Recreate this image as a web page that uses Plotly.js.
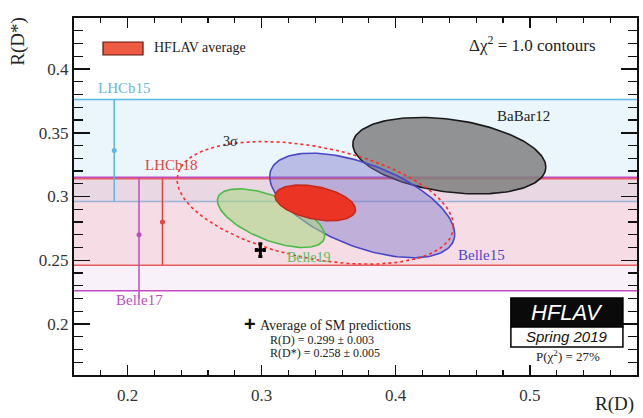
<!DOCTYPE html>
<html>
<head>
<meta charset="utf-8">
<script src="https://cdn.plot.ly/plotly-3.0.1.min.js"></script>
<style>html,body{margin:0;padding:0;background:#fff;}#chart{width:643px;height:418px;}</style>
</head>
<body>
<div id="chart"></div>
<script>
// ---- 2D measurements (Δχ² = 1 contours) ----
const expNames = ['BaBar12', 'Belle15', 'Belle19', 'HFLAV average'];
const rD      = [0.440, 0.375, 0.307, 0.340];
const rDErr   = [0.072, 0.069, 0.040, 0.030];
const rDs     = [0.332, 0.293, 0.283, 0.295];
const rDsErr  = [0.030, 0.041, 0.023, 0.014];
const corr    = [-0.30, -0.55, -0.60, -0.38];

// 3 sigma contour of average (Δχ² = 11.8)
const sigma3Scale = Math.sqrt(11.8);

// ---- 1D R(D*) measurements ----
const oneDNames   = ['LHCb15', 'LHCb18', 'Belle17'];
const oneDVal     = [0.336, 0.280, 0.270];
const oneDErrUp   = [0.040, 0.034, 0.045];
const oneDErrDown = [0.040, 0.034, 0.044];
const oneDMarkerX = [0.190, 0.226, 0.2085];

// ---- SM prediction ----
const smRD = [0.299], smRDErr = [0.003];
const smRDs = [0.258], smRDsErr = [0.005];

// ---- Axis ranges ----
const xRange = [0.16, 0.58];
const yRange = [0.16, 0.44];

const serif = '"Liberation Serif", "Times New Roman", serif';
const sans = '"Liberation Sans", Arial, sans-serif';

function ellipse(cx, cy, sx, sy, rho, k) {
  const xs = [], ys = [];
  const n = 160;
  for (let i = 0; i <= n; i++) {
    const t = 2 * Math.PI * i / n;
    const u = Math.cos(t), v = Math.sin(t);
    xs.push(cx + k * sx * u);
    ys.push(cy + k * sy * (rho * u + Math.sqrt(1 - rho * rho) * v));
  }
  return {x: xs, y: ys};
}

const ellStyle = [
  {fill: 'rgba(128,128,128,0.85)', line: '#1a1a1a'},
  {fill: 'rgba(120,112,200,0.42)', line: '#4848c8'},
  {fill: 'rgba(165,215,125,0.55)', line: '#4cbb48'},
  {fill: 'rgba(236,52,36,1)', line: '#c42a1c'}
];

const traces = [];
for (let i = 0; i < expNames.length; i++) {
  const e = ellipse(rD[i], rDs[i], rDErr[i], rDsErr[i], corr[i], 1);
  traces.push({
    x: e.x, y: e.y, type: 'scatter', mode: 'lines', fill: 'toself',
    fillcolor: ellStyle[i].fill, line: {color: ellStyle[i].line, width: 1.6},
    hoverinfo: 'skip', showlegend: false, name: expNames[i]
  });
}
// 3 sigma dashed contour
{
  const i = 3;
  const e = ellipse(rD[i], rDs[i], rDErr[i], rDsErr[i], corr[i], sigma3Scale);
  traces.push({
    x: e.x, y: e.y, type: 'scatter', mode: 'lines',
    line: {color: '#ff2a2a', width: 1.6, dash: '3px,3px'},
    hoverinfo: 'skip', showlegend: false
  });
}

// 1D markers with vertical error bars
const oneDColors = ['#5ab6e2', '#e8403a', '#c04cc0'];
for (let i = 0; i < oneDNames.length; i++) {
  traces.push({
    x: [oneDMarkerX[i]], y: [oneDVal[i]], type: 'scatter', mode: 'markers',
    marker: {color: oneDColors[i], size: 5},
    error_y: {type: 'data', symmetric: false, array: [oneDErrUp[i]], arrayminus: [oneDErrDown[i]],
              color: oneDColors[i], thickness: 1.5, width: 0},
    hoverinfo: 'skip', showlegend: false
  });
}
// Belle17 line extends down to its label
traces.push({
  x: [oneDMarkerX[2], oneDMarkerX[2]], y: [oneDVal[2] - oneDErrDown[2], oneDVal[2] - oneDErrDown[2] - 0.006],
  type: 'scatter', mode: 'lines', line: {color: oneDColors[2], width: 1.5}, hoverinfo: 'skip', showlegend: false
});

// SM prediction cross
traces.push({
  x: smRD, y: smRDs, type: 'scatter', mode: 'markers',
  marker: {color: 'black', size: 1},
  error_x: {type: 'data', array: smRDErr, color: 'black', thickness: 3, width: 2},
  error_y: {type: 'data', array: smRDsErr, color: 'black', thickness: 3, width: 2},
  hoverinfo: 'skip', showlegend: false
});

// Bands for 1D measurements
const bandFill = ['rgba(195,228,246,0.35)', 'rgba(246,165,170,0.30)', 'rgba(222,190,232,0.22)'];
const shapes = [];
for (let i = 0; i < oneDNames.length; i++) {
  const lo = oneDVal[i] - oneDErrDown[i], hi = oneDVal[i] + oneDErrUp[i];
  shapes.push({type: 'rect', xref: 'paper', yref: 'y', x0: 0, x1: 1, y0: lo, y1: hi,
               fillcolor: bandFill[i], line: {width: 0}, layer: 'below'});
  [lo, hi].forEach(v => shapes.push({type: 'line', xref: 'paper', yref: 'y', x0: 0, x1: 1, y0: v, y1: v,
               line: {color: oneDColors[i], width: 1.5}, layer: 'below'}));
}
// Legend box
shapes.push({type: 'rect', xref: 'paper', yref: 'paper', x0: 0.0515, x1: 0.1226, y0: 0.8964, y1: 0.9328,
             fillcolor: '#ee5a42', line: {color: '#5a1a10', width: 1.2}});
// HFLAV logo boxes
shapes.push({type: 'rect', xref: 'paper', yref: 'paper', x0: 0.776, x1: 0.975, y0: 0.1345, y1: 0.2157,
             fillcolor: '#0a0a0a', line: {color: '#000', width: 1.5}});
shapes.push({type: 'rect', xref: 'paper', yref: 'paper', x0: 0.776, x1: 0.975, y0: 0.0784, y1: 0.1345,
             fillcolor: '#ffffff', line: {color: '#000', width: 1.5}});

const annotations = [
  {xref: 'paper', yref: 'paper', x: 0.1385, y: 0.916, xanchor: 'left', yanchor: 'middle', showarrow: false,
   text: 'HFLAV average', font: {family: serif, size: 14, color: '#222'}},
  {xref: 'paper', yref: 'paper', x: 0.815, y: 0.926, xanchor: 'center', yanchor: 'middle', showarrow: false,
   text: 'Δχ<sup>2</sup> = 1.0 contours', font: {family: serif, size: 17, color: '#222'}},
  {x: 0.495, y: 0.363, showarrow: false, text: 'BaBar12', font: {family: serif, size: 15, color: '#222'}},
  {x: 0.464, y: 0.2545, showarrow: false, text: 'Belle15', font: {family: serif, size: 15, color: '#4848c8'}},
  {x: 0.3355, y: 0.2518, showarrow: false, text: 'Belle19', font: {family: serif, size: 14, color: '#5cc058'}},
  {x: 0.2324, y: 0.3247, showarrow: false, text: 'LHCb18', font: {family: serif, size: 15, color: '#e8403a'}},
  {x: 0.198, y: 0.385, showarrow: false, text: 'LHCb15', font: {family: serif, size: 15, color: '#6ab8e0'}},
  {x: 0.2085, y: 0.2185, showarrow: false, text: 'Belle17', font: {family: serif, size: 15, color: '#c04cc0'}},
  {x: 0.2764, y: 0.3435, showarrow: false, text: '3σ', font: {family: serif, size: 14, color: '#222'}},
  {xref: 'paper', yref: 'paper', x: 0.3126, y: 0.142, xanchor: 'center', yanchor: 'middle', showarrow: false,
   text: '<b>+</b>', font: {family: sans, size: 20, color: '#111'}},
  {xref: 'paper', yref: 'paper', x: 0.327, y: 0.14, xanchor: 'left', yanchor: 'middle', showarrow: false,
   text: 'Average of SM predictions', font: {family: serif, size: 14, color: '#222'}},
  {xref: 'paper', yref: 'paper', x: 0.345, y: 0.098, xanchor: 'left', yanchor: 'middle', showarrow: false,
   text: 'R(D) = 0.299 ± 0.003', font: {family: serif, size: 12, color: '#222'}},
  {xref: 'paper', yref: 'paper', x: 0.345, y: 0.0616, xanchor: 'left', yanchor: 'middle', showarrow: false,
   text: 'R(D*) = 0.258 ± 0.005', font: {family: serif, size: 12, color: '#222'}},
  {xref: 'paper', yref: 'paper', x: 0.8755, y: 0.176, xanchor: 'center', yanchor: 'middle', showarrow: false,
   text: '<i>HFLAV</i>', font: {family: sans, size: 22, color: '#ffffff'}},
  {xref: 'paper', yref: 'paper', x: 0.8755, y: 0.1065, xanchor: 'center', yanchor: 'middle', showarrow: false,
   text: '<i>Spring 2019</i>', font: {family: sans, size: 15, color: '#111'}},
  {xref: 'paper', yref: 'paper', x: 0.877, y: 0.053, xanchor: 'center', yanchor: 'middle', showarrow: false,
   text: 'P(χ<sup>2</sup>) = 27%', font: {family: serif, size: 13, color: '#222'}},
  // axis titles
  {xref: 'paper', yref: 'paper', x: 0.999, y: -0.082, xanchor: 'right', yanchor: 'middle', showarrow: false,
   text: 'R(D)', font: {family: serif, size: 19, color: '#222'}},
  {xref: 'paper', yref: 'paper', x: -0.1, y: 1.01, xanchor: 'center', yanchor: 'top', showarrow: false,
   textangle: -90, text: 'R(D*)', font: {family: serif, size: 19, color: '#222'}}
];

const layout = {
  width: 643, height: 418,
  margin: {l: 74, r: 6, t: 18, b: 43},
  paper_bgcolor: '#ffffff', plot_bgcolor: '#ffffff',
  showlegend: false,
  xaxis: {
    range: xRange, dtick: 0.1, tick0: 0.2,
    ticks: 'inside', ticklen: 10, tickwidth: 1.5, tickcolor: '#111',
    mirror: 'allticks', showline: true, linewidth: 2, linecolor: '#111',
    showgrid: false, zeroline: false,
    minor: {dtick: 0.02, ticks: 'inside', ticklen: 5, tickwidth: 1.2, tickcolor: '#111', showgrid: false},
    tickfont: {family: serif, size: 17, color: '#333'}, ticklabelstandoff: 4
  },
  yaxis: {
    range: yRange, dtick: 0.05, tick0: 0.2,
    ticks: 'inside', ticklen: 16, tickwidth: 1.5, tickcolor: '#111',
    mirror: 'allticks', showline: true, linewidth: 2, linecolor: '#111',
    showgrid: false, zeroline: false,
    minor: {dtick: 0.01, ticks: 'inside', ticklen: 9, tickwidth: 1.2, tickcolor: '#111', showgrid: false},
    tickfont: {family: serif, size: 17, color: '#333'}
  },
  shapes: shapes,
  annotations: annotations
};

Plotly.newPlot('chart', traces, layout, {displayModeBar: false, staticPlot: true});
</script>
</body>
</html>
